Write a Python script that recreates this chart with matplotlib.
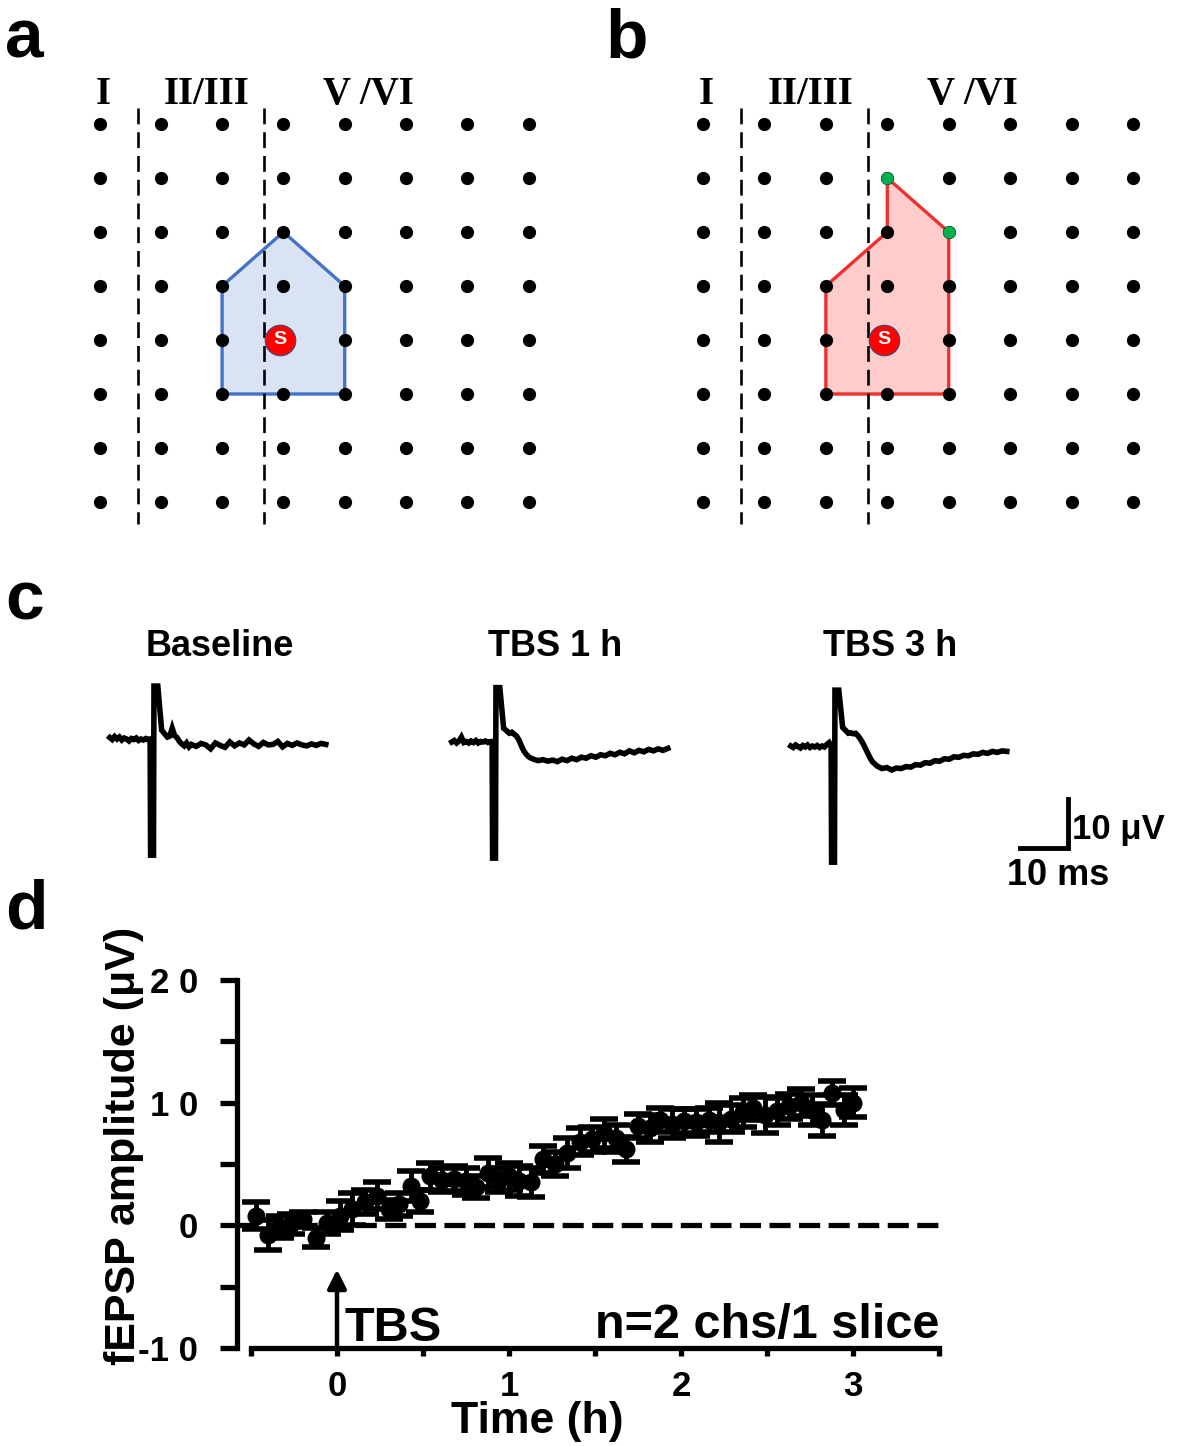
import matplotlib
matplotlib.use("Agg")
import matplotlib.pyplot as plt
from matplotlib.patches import Polygon

W, H = 1181, 1446
plt.rcParams['font.family'] = ['Liberation Sans', 'DejaVu Sans']
plt.rcParams['font.weight'] = 'bold'

# ---- panels a / b : 8x8 electrode grid, (column, row) indices
grid_cols = list(range(8))
grid_rows = list(range(8))
layer_bounds = [0.62, 2.69]
layer_names = ["I", "II/III", "V /VI"]
layer_name_cols = [0.06, 1.75, 4.38]
stim_site = (2.95, 4.0)
area_base = [(2, 3), (3, 2), (4, 3), (4, 5), (2, 5)]
area_tbs = [(3, 1), (3, 2), (2, 3), (2, 5), (4, 5), (4, 2)]
new_sites = [(3, 1), (4, 2)]

# ---- panel c : fEPSP traces (ms, µV)
t_ms = [-9, -8.5, -8, -7.5, -7, -6.5, -6, -5.5, -5, -4.5, -4, -3.5, -3, -2.5, -2, -1.5, -1,
        -0.6, -0.5, 0.1, 0.2, 1.0, 1.8,
        3, 3.5, 4, 4.5, 5, 5.5, 6, 6.5, 7, 7.5,
        8, 9, 10, 11, 12, 13, 14, 15, 16, 17, 18, 19, 20, 21, 22, 23, 24, 25, 26, 27, 28, 29,
        30, 31, 32, 33, 34, 35, 36]
trace_baseline = [0.5, 0.1, 0.7, 0.2, 0.6, 0.0, 0.4, 0.2, -0.2, 0.3, 0.1, 0.4, -0.1, 0.2, 0.0, 0.3, 0.1,
                  0.2, -23.5, -23.5, 11.0, 11.0, 2.0,
                  0.6, 0.8, 2.4, 0.9, 0.5, -0.3, -0.8, -1.2, -0.6, -1.4,
                  -0.9, -1.3, -0.7, -1.0, -1.8, -0.6, -1.1, -1.5, -0.4, -1.2, -0.6, -1.0, 0.0, -0.8,
                  -1.3, -0.5, -1.0, -0.9, -0.3, -1.4, -0.7, -1.1, -0.6, -1.0, -1.2, -0.8, -1.1, -0.7, -0.9]
trace_1h = [0.2, 0.5, 0.0, 0.4, 1.2, 0.1, 0.3, 0.0, 0.4, 0.1, 0.5, 0.0, 0.3, 0.2, 0.4, 0.1, 0.3,
            0.3, -23.5, -23.5, 11.3, 11.3, 3.0,
            2.0, 2.2, 1.8, 1.4, 0.6, -0.6, -1.6, -2.3, -2.8, -3.1,
            -3.3, -3.6, -3.4, -3.7, -3.5, -3.8, -3.3, -3.6, -3.1, -3.4, -2.9, -3.1, -2.6, -2.9,
            -2.4, -2.6, -2.1, -2.4, -1.9, -2.2, -1.6, -2.0, -1.5, -1.8, -1.3, -1.6, -1.2, -1.5, -1.1]
trace_3h = [0.2, -0.1, 0.4, 0.1, -0.2, 0.3, 0.0, 0.4, -0.1, 0.2, 0.0, 0.3, -0.1, 0.2, 0.0, 0.5, 0.9,
            0.3, -23.5, -23.5, 11.6, 11.6, 4.0,
            2.8, 2.9, 2.7, 2.8, 2.3, 1.6, 0.8, -0.2, -1.2, -2.2,
            -3.0, -3.9, -4.4, -4.2, -4.7, -4.3, -4.4, -4.0, -4.1, -3.6, -3.7, -3.2, -3.3, -2.8,
            -2.9, -2.4, -2.5, -2.0, -2.1, -1.7, -1.8, -1.4, -1.5, -1.1, -1.3, -0.9, -1.1, -0.8, -0.9]
trace_titles = ["Baseline", "TBS 1 h", "TBS 3 h"]
scale_ms, scale_uv = 10, 10

# ---- panel d : fEPSP amplitude over time
time_h = [-0.47, -0.40, -0.33, -0.27, -0.20, -0.12, -0.06, 0.02, 0.09, 0.16, 0.23, 0.30, 0.36,
          0.43, 0.48, 0.54, 0.61, 0.68, 0.75, 0.81, 0.88, 0.94, 1.00, 1.06, 1.13, 1.20, 1.27,
          1.34, 1.41, 1.48, 1.55, 1.62, 1.68, 1.75, 1.82, 1.88, 1.95, 2.02, 2.09, 2.16, 2.22,
          2.29, 2.36, 2.42, 2.49, 2.56, 2.63, 2.70, 2.76, 2.82, 2.88, 2.95, 3.00]
amp_uv = [0.8, -0.8, -0.1, 0.1, 0.5, -1.0, 0.2, 0.8, 1.3, 1.9, 2.4, 1.3, 1.7,
          3.2, 2.0, 4.0, 3.7, 3.8, 3.6, 3.1, 4.3, 3.7, 4.0, 3.6, 3.5, 5.4, 5.0,
          5.9, 6.8, 7.0, 7.5, 7.1, 6.2, 8.1, 7.9, 8.6, 8.3, 8.5, 8.4, 8.6, 8.4,
          8.7, 9.2, 9.6, 9.0, 9.3, 9.7, 10.0, 9.4, 8.6, 10.8, 9.4, 10.0]
amp_err = [1.1, 1.2, 0.9, 0.8, 0.6, 0.8, 0.9, 1.2, 1.3, 1.0, 1.1, 0.8, 0.9,
           1.2, 0.9, 1.1, 1.0, 1.0, 1.1, 0.9, 1.2, 1.0, 1.1, 1.2, 1.2, 1.1, 1.0,
           1.2, 1.1, 1.0, 1.2, 1.1, 1.0, 1.0, 1.1, 1.0, 1.2, 1.0, 1.1, 1.0, 1.6,
           1.1, 1.2, 1.0, 1.5, 1.1, 1.0, 1.1, 1.2, 1.3, 1.0, 1.2, 1.2]
yticks = [-10, -5, 0, 5, 10, 15, 20]
ytick_labels = ["-1 0", "", "0", "", "1 0", "", "2 0"]
xticks = [-0.5, 0, 0.5, 1, 1.5, 2, 2.5, 3, 3.5]
xtick_labels = ["", "0", "", "1", "", "2", "", "3", ""]

fig = plt.figure(figsize=(W / 100, H / 100), dpi=100)


def px_axes(l, t, r, b):
    return fig.add_axes([l / W, 1 - b / H, (r - l) / W, (b - t) / H])


def ftext(x, y, s, **kw):
    fig.text(x / W, 1 - y / H, s, **kw)


def grid_panel(col0, dx, poly, edge, face, extra=None):
    ax = px_axes(col0 - dx, 124 - 1.5 * 54, col0 + 7.7 * dx, 124 + 8 * 54)
    ax.set_xlim(-1, 7.7)
    ax.set_ylim(8, -1.5)
    ax.axis('off')
    ax.add_patch(Polygon(poly, closed=True, facecolor=face, edgecolor=edge, lw=2.4, zorder=2))
    for xb in layer_bounds:
        ax.plot([xb, xb], [-0.3, 7.4], color='k', lw=1.9, dashes=(6, 3), zorder=2.5)
    gx = [c for r in grid_rows for c in grid_cols]
    gy = [r for r in grid_rows for c in grid_cols]
    ax.plot(gx, gy, 'o', color='k', ms=8.5, zorder=3)
    if extra:
        ax.plot([p[0] for p in extra], [p[1] for p in extra], 'o', color='#00b050', ms=8, zorder=4)
    ax.plot(*stim_site, 'o', ms=22, mfc='#ff0000', mec='#3a4a7a', mew=0.8, zorder=5)
    ax.text(*stim_site, 'S', color='w', fontsize=14, ha='center', va='center', zorder=6)
    for name, c in zip(layer_names, layer_name_cols):
        ax.text(c, -0.54, name, ha='center', va='center', fontsize=28,
                family='Liberation Serif', fontweight='bold')
    return ax


grid_panel(99.5, 61.3, area_base, '#4472c4', '#dae3f3')
grid_panel(703, 61.43, area_tbs, '#f03030', '#ffcccc', new_sites)

# traces
trace_pos = [(153, 740), (495, 743), (834, 747)]
title_x = [220, 555, 890]
for (ax_x, by), vals, title, tx in zip(trace_pos, [trace_baseline, trace_1h, trace_3h],
                                       trace_titles, title_x):
    ax = px_axes(ax_x - 12 * 4.8, by - 16 * 4.9, ax_x + 52 * 4.8, by + 30 * 4.9)
    ax.set_xlim(-12, 52)
    ax.set_ylim(-30, 16)
    ax.axis('off')
    ax.plot(t_ms, vals, color='k', lw=4.0, solid_joinstyle='miter')
    ftext(tx, 647, title, ha='center', va='center', fontsize=26)
    last = ax

# scale bar on the last trace axes
cx, cy = 48.75, -20.6
last.plot([cx - scale_ms, cx, cx], [cy, cy, cy + scale_uv], color='k', lw=3.5,
          solid_joinstyle='miter', clip_on=False)
ftext(1072, 830, "10 \u03bcV", ha='left', va='center', fontsize=25)
ftext(1058, 876, "10 ms", ha='center', va='center', fontsize=26)

# panel d
axd = px_axes(337 - 0.58 * 172, 980, 337 + 3.65 * 172, 1348)
axd.set_xlim(-0.58, 3.65)
axd.set_ylim(-10, 20)
axd.plot([-0.58, 3.5], [0, 0], color='k', lw=3.8, dashes=(4, 1.6), zorder=1)
axd.errorbar(time_h, amp_uv, yerr=amp_err, fmt='o', color='k', ms=12, elinewidth=3.5,
             capsize=10, capthick=4, zorder=3, clip_on=False)
for s in ['top', 'right']:
    axd.spines[s].set_visible(False)
axd.spines['left'].set_bounds(-10, 20)
axd.spines['bottom'].set_bounds(-0.5, 3.5)
for s in ['left', 'bottom']:
    axd.spines[s].set_linewidth(3.8)
axd.set_yticks(yticks)
axd.set_yticklabels(ytick_labels)
axd.set_xticks(xticks)
axd.set_xticklabels(xtick_labels)
axd.tick_params(axis='y', length=12, width=3.8, pad=16, labelsize=25)
axd.tick_params(axis='x', length=6, width=3.8, pad=10, labelsize=25)
axd.annotate('', xy=(0, -3.6), xytext=(0, -10),
             arrowprops=dict(arrowstyle='-|>', lw=3.2, color='k', mutation_scale=28,
                             shrinkA=0, shrinkB=0))
axd.text(0.045, -9.4, "TBS", ha='left', va='baseline', fontsize=35)
axd.text(3.5, -9.2, "n=2 chs/1 slice", ha='right', va='baseline', fontsize=35)
ftext(124, 1146, "fEPSP amplitude (\u03bcV)", rotation=90, ha='center', va='center', fontsize=31)
ftext(537, 1421, "Time (h)", ha='center', va='center', fontsize=32)

# panel letters
for letter, (x, y) in zip("abcd", [(5, 57), (605, 57), (5, 620), (5, 928)]):
    ftext(x, y, letter, ha='left', va='baseline', fontsize=50)

fig.savefig("out.png", dpi=100)
